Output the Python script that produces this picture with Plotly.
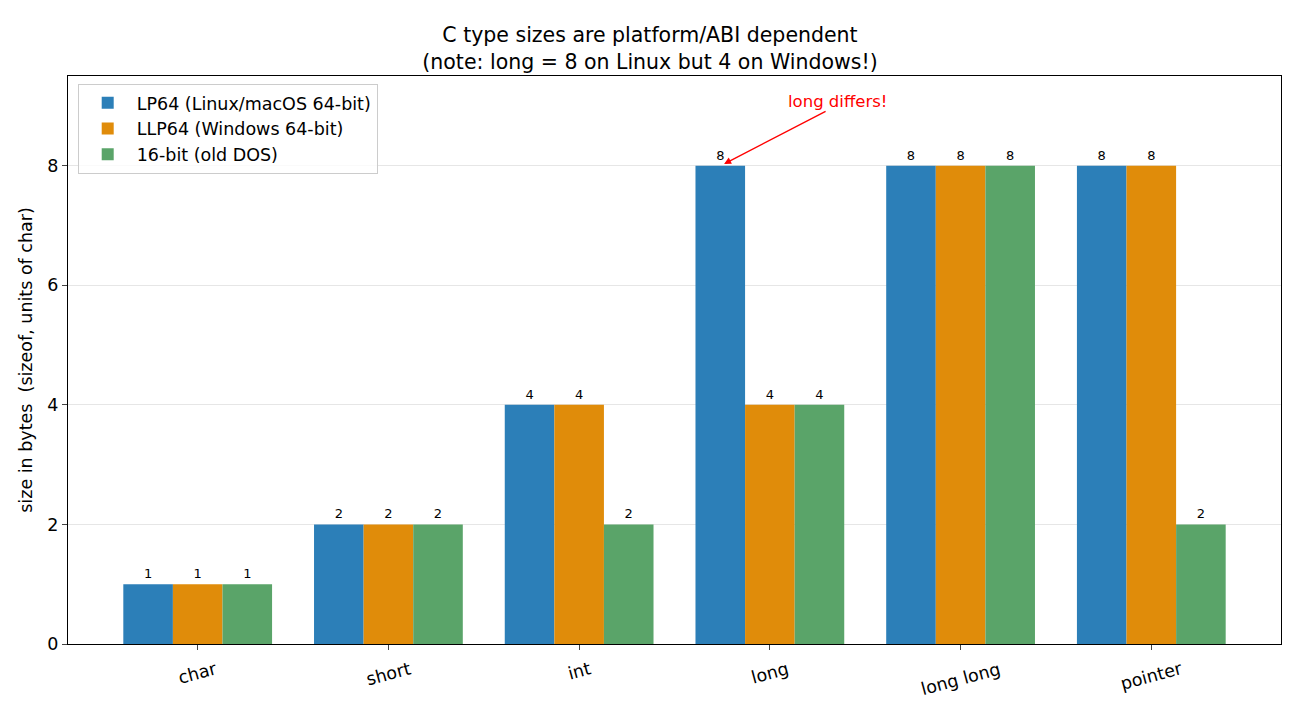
import plotly.graph_objects as go

categories = ["char", "short", "int", "long", "long long", "pointer"]
lp64 = [1, 2, 4, 8, 8, 8]
llp64 = [1, 2, 4, 4, 8, 8]
dos16 = [1, 2, 2, 4, 8, 2]
series_names = ["LP64 (Linux/macOS 64-bit)", "LLP64 (Windows 64-bit)", "16-bit (old DOS)"]
colors = ["#2c7fb8", "#e08c0a", "#5aa469"]
y_ticks = [0, 2, 4, 6, 8]

fig = go.Figure()
for name, vals, col in zip(series_names, [lp64, llp64, dos16], colors):
    fig.add_trace(go.Bar(
        x=categories, y=vals, name=name, marker_color=col, marker_line_width=0,
        text=[str(v) for v in vals], textposition="outside", cliponaxis=False,
        textfont=dict(size=13, color="black"), width=0.26,
    ))

fig.update_layout(
    width=1300, height=715,
    barmode="group", bargap=0.22, bargroupgap=0,
    paper_bgcolor="white", plot_bgcolor="white",
    font=dict(family="DejaVu Sans", color="black", size=17),
    margin=dict(l=68, r=19, t=76, b=71),
    title=dict(text="C type sizes are platform/ABI dependent<br>(note: long = 8 on Linux but 4 on Windows!)",
               x=0.5, xanchor="center", yref="container", y=0.941, yanchor="top", font=dict(size=20.5)),
    legend=dict(x=0.008, y=0.986, xanchor="left", yanchor="top",
                bgcolor="rgba(255,255,255,0.8)", bordercolor="#cccccc", borderwidth=1,
                font=dict(size=17.5), tracegroupgap=0, itemwidth=48),
    showlegend=True,
    uniformtext=dict(minsize=13, mode="show"),
)
fig.update_xaxes(range=[-0.68, 5.68], showline=True, linecolor="black", linewidth=1,
                 mirror=True, ticks="outside", ticklen=5, showticklabels=False, showgrid=False)
fig.update_yaxes(range=[0, 9.5], tickvals=y_ticks, showline=True, linecolor="black", linewidth=1,
                 mirror=True, ticks="outside", ticklen=5, tickfont=dict(size=17.5),
                 showgrid=True, gridcolor="#e6e6e6", zeroline=False,
                 title=dict(text="size in bytes  (sizeof, units of char)", font=dict(size=17.5), standoff=10))

# rotated category labels centred under each tick (matplotlib-style)
for cat in categories:
    fig.add_annotation(x=cat, y=0, xref="x", yref="paper", text=cat, showarrow=False,
                       textangle=-15, xanchor="center", yanchor="top", yshift=-12,
                       font=dict(size=17.5, color="black"))

fig.add_annotation(x=2.76, y=8.03, ax=3.3, ay=8.92, xref="x", yref="y", axref="x", ayref="y",
                   text="", showarrow=True, arrowhead=2, arrowsize=1, arrowwidth=1.4, arrowcolor="red")
fig.add_annotation(x=3.357, y=9.08, xref="x", yref="y", text="long differs!", showarrow=False,
                   font=dict(size=16.5, color="red"), yshift=0)

fig.write_html("out.html")
